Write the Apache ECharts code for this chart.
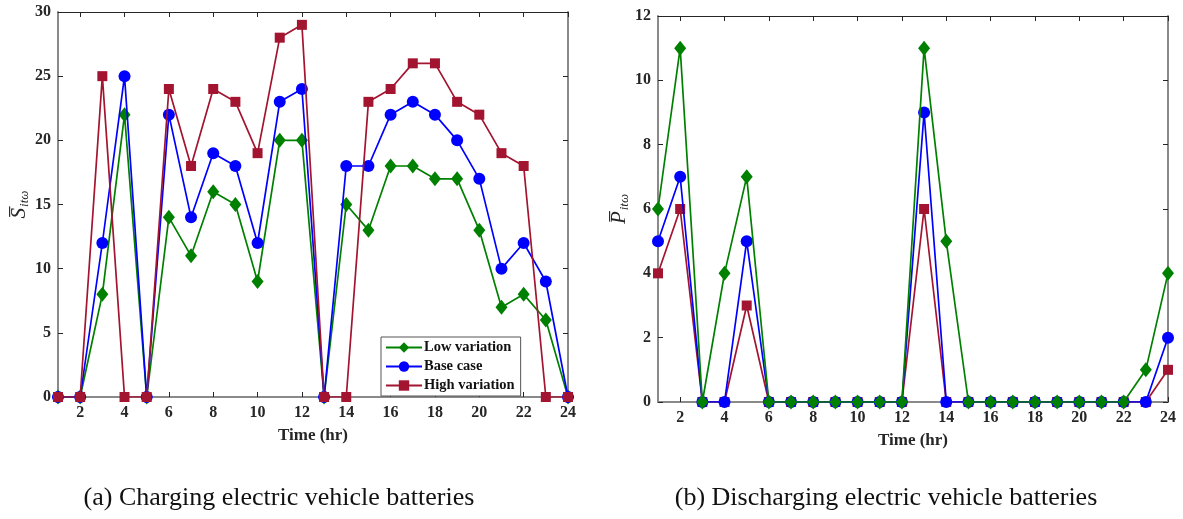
<!DOCTYPE html>
<html>
<head>
<meta charset="utf-8">
<script src="https://cdn.jsdelivr.net/npm/echarts@6/dist/echarts.min.js"></script>
<style>
  html, body { margin: 0; padding: 0; background: #fff; }
  #chart { width: 1183px; height: 519px; }
</style>
</head>
<body>
<div id="chart"></div>
<script>
// Hours of the day
const hours = [1,2,3,4,5,6,7,8,9,10,11,12,13,14,15,16,17,18,19,20,21,22,23,24];
const hourTicks = [2,4,6,8,10,12,14,16,18,20,22,24];

// Charging of EV batteries per hour
const chargeLow  = [0,0,8,22,0,14,11,16,15,9,20,20,0,15,13,18,18,17,17,13,7,8,6,0];
const chargeBase = [0,0,12,25,0,22,14,19,18,12,23,24,0,18,18,22,23,22,20,17,10,12,9,0];
const chargeHigh = [0,0,25,0,0,24,18,24,23,19,28,29,0,0,23,24,26,26,23,22,19,18,0,0];

// Discharging of EV batteries per hour
const dischargeLow  = [6,11,0,4,7,0,0,0,0,0,0,0,11,5,0,0,0,0,0,0,0,0,1,4];
const dischargeBase = [5,7,0,0,5,0,0,0,0,0,0,0,9,0,0,0,0,0,0,0,0,0,0,2];
const dischargeHigh = [4,6,0,0,3,0,0,0,0,0,0,0,6,0,0,0,0,0,0,0,0,0,0,1];

const seriesNames = ['Low variation', 'Base case', 'High variation'];
const captions = ['(a) Charging electric vehicle batteries', '(b) Discharging electric vehicle batteries'];

const GREEN = '#008000', BLUE = '#0000ff', RED = '#a2142f';
const SERIF = '"Liberation Serif", "DejaVu Serif", serif';
const AXIS_GRAY = '#8a8a8a';
const INK = '#262626';

const pairs = vals => hours.map((h, i) => [h, vals[i]]);

const style = {
  'Low variation':  { color: GREEN, symbol: 'diamond', size: [12, 15] },
  'Base case':      { color: BLUE,  symbol: 'circle',  size: 12 },
  'High variation': { color: RED,   symbol: 'rect',    size: 10 }
};

function line(name, vals, xi, yi, z) {
  const s = style[name];
  return {
    name, type: 'line', xAxisIndex: xi, yAxisIndex: yi,
    data: pairs(vals), z,
    symbol: s.symbol, symbolSize: s.size, showSymbol: true,
    lineStyle: { color: s.color, width: 1.7 },
    itemStyle: { color: s.color },
    emphasis: { disabled: true },
    animation: false
  };
}

function xAxes(gi) {
  return [
    {
      type: 'value', gridIndex: gi, min: 1, max: 24, position: 'bottom',
      name: 'Time (hr)', nameLocation: 'middle', nameGap: 30,
      nameTextStyle: { fontFamily: SERIF, fontWeight: 'bold', fontSize: 17, color: INK },
      axisLine: { show: true, lineStyle: { color: AXIS_GRAY, width: 2 } },
      axisTick: { show: true, inside: true, length: 5, customValues: hourTicks, lineStyle: { color: INK, width: 1 } },
      axisLabel: { customValues: hourTicks, margin: 8, fontFamily: SERIF, fontWeight: 'bold', fontSize: 16, color: INK },
      splitLine: { show: false }
    },
    {
      type: 'value', gridIndex: gi, min: 1, max: 24, position: 'top',
      axisLine: { show: true, onZero: false, lineStyle: { color: INK, width: 1 } },
      axisTick: { show: true, inside: true, length: 5, customValues: hourTicks, lineStyle: { color: INK, width: 1 } },
      axisLabel: { show: false },
      splitLine: { show: false }
    }
  ];
}

function yAxes(gi, max, interval, name, gap) {
  return [
    {
      type: 'value', gridIndex: gi, min: 0, max, interval, position: 'left',
      name, nameLocation: 'middle', nameRotate: 90, nameGap: gap,
      nameTextStyle: {
        rich: {
          s:   { fontFamily: SERIF, fontStyle: 'italic', fontSize: 21, color: INK },
          sub: { fontFamily: SERIF, fontStyle: 'italic', fontSize: 13, color: INK, padding: [10, 0, 0, 1] }
        }
      },
      axisLine: { show: true, onZero: false, lineStyle: { color: AXIS_GRAY, width: 2 } },
      axisTick: { show: true, inside: true, length: 5, lineStyle: { color: INK, width: 1 } },
      axisLabel: { margin: 7, fontFamily: SERIF, fontWeight: 'bold', fontSize: 16, color: INK },
      splitLine: { show: false }
    },
    {
      type: 'value', gridIndex: gi, min: 0, max, interval, position: 'right',
      axisLine: { show: true, onZero: false, lineStyle: { color: AXIS_GRAY, width: 2 } },
      axisTick: { show: true, inside: true, length: 5, lineStyle: { color: INK, width: 1 } },
      axisLabel: { show: false },
      splitLine: { show: false }
    }
  ];
}

const chart = echarts.init(document.getElementById('chart'), null, { renderer: 'canvas' });

chart.setOption({
  backgroundColor: '#fff',
  animation: false,
  grid: [
    { left: 58, top: 12, width: 510, height: 385 },
    { left: 658, top: 16, width: 510, height: 386 }
  ],
  xAxis: [...xAxes(0), ...xAxes(1)],
  yAxis: [
    ...yAxes(0, 30, 5, '{s|S\u0305}{sub|it\u03c9}', 26),
    ...yAxes(1, 12, 2, '{s|P\u0305}{sub|it\u03c9}', 27)
  ],
  legend: {
    data: seriesNames,
    orient: 'vertical',
    left: 381, top: 337,
    itemWidth: 36, itemHeight: 13, itemGap: 4,
    padding: [3, 6, 3, 4],
    backgroundColor: '#fff',
    borderColor: '#555', borderWidth: 1, borderRadius: 0,
    selectedMode: false,
    textStyle: { fontFamily: SERIF, fontWeight: 'bold', fontSize: 14.5, color: '#111', lineHeight: 14, padding: [0, 0, 0, -3] }
  },
  title: [
    { text: captions[0], left: 274, top: 480, textAlign: 'center',
      textStyle: { fontFamily: SERIF, fontWeight: 'normal', fontSize: 26, color: '#111' } },
    { text: captions[1], left: 881, top: 480, textAlign: 'center',
      textStyle: { fontFamily: SERIF, fontWeight: 'normal', fontSize: 26, color: '#111' } }
  ],
  series: [
    line('Low variation',  chargeLow,  0, 0, 2),
    line('Base case',      chargeBase, 0, 0, 3),
    line('High variation', chargeHigh, 0, 0, 4),
    line('Low variation',  dischargeLow,  2, 2, 4),
    line('Base case',      dischargeBase, 2, 2, 3),
    line('High variation', dischargeHigh, 2, 2, 2)
  ]
});
</script>
</body>
</html>
